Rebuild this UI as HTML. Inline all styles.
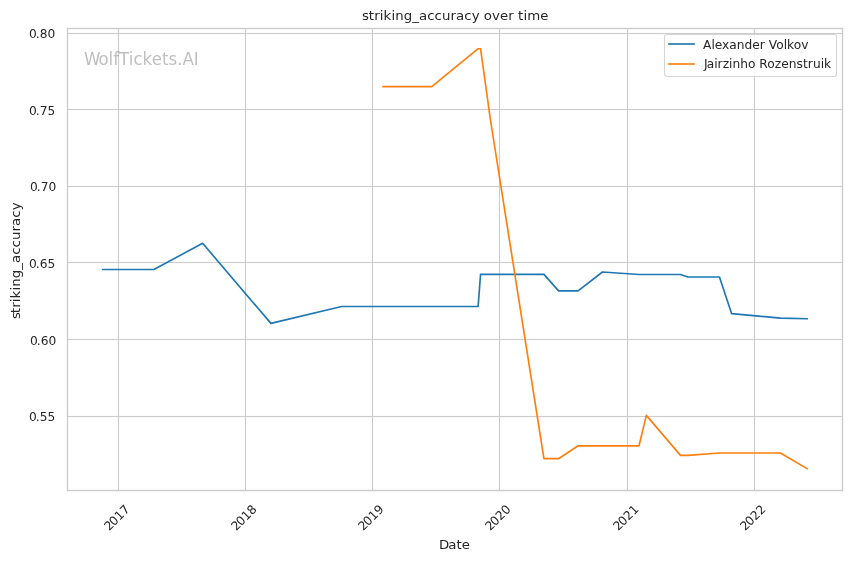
<!DOCTYPE html>
<html lang="en">
<head>
<meta charset="utf-8">
<title>striking_accuracy over time</title>
<style>
html,body{margin:0;padding:0;background:#fff;}
body{width:852px;height:561px;overflow:hidden;}
svg{display:block;position:absolute;left:0;top:0;}
text{font-family:"DejaVu Sans", "Liberation Sans", sans-serif;fill:#262626;text-rendering:geometricPrecision;}
.h{text-rendering:auto;}
.g{stroke:#ccc;stroke-width:1.111;fill:none;}
.gh{stroke:#ccc;stroke-width:3;stroke-opacity:0.0555;fill:none;}
.gc{stroke:#ccc;stroke-width:1;fill:none;}
.s{stroke:#ccc;stroke-width:1.389;fill:none;stroke-linecap:square;}
.sh{stroke:#ccc;stroke-width:3;stroke-opacity:0.1945;fill:none;}
.sc{stroke:#ccc;stroke-width:1;fill:none;stroke-linecap:square;}
.l{stroke-width:1.667;fill:none;stroke-linecap:square;stroke-linejoin:round;}
.t{font-size:12.222px;}
.a{font-size:13.333px;}
.w{font-size:16.667px;fill:#808080;fill-opacity:0.5;}
</style>
</head>
<body>
<svg width="852" height="561" viewBox="0 0 852 561" role="img" aria-label="striking_accuracy over time">
<rect x="0" y="0" width="852" height="561" fill="#fff"/>
<g class="g">
<line x1="118.5" y1="28.5" x2="118.5" y2="490.5"/>
<line x1="245.5" y1="28.5" x2="245.5" y2="490.5"/>
<line x1="372.5" y1="28.5" x2="372.5" y2="490.5"/>
<line x1="499.5" y1="28.5" x2="499.5" y2="490.5"/>
<line x1="627.5" y1="28.5" x2="627.5" y2="490.5"/>
<line x1="754.5" y1="28.5" x2="754.5" y2="490.5"/>
</g>
<g class="gh">
<line x1="67.5" y1="33.5" x2="842.5" y2="33.5"/>
<line x1="67.5" y1="109.5" x2="842.5" y2="109.5"/>
<line x1="67.5" y1="186.5" x2="842.5" y2="186.5"/>
<line x1="67.5" y1="262.5" x2="842.5" y2="262.5"/>
<line x1="67.5" y1="339.5" x2="842.5" y2="339.5"/>
<line x1="67.5" y1="416.5" x2="842.5" y2="416.5"/>
</g>
<g class="gc">
<line x1="67.5" y1="33.5" x2="842.5" y2="33.5"/>
<line x1="67.5" y1="109.5" x2="842.5" y2="109.5"/>
<line x1="67.5" y1="186.5" x2="842.5" y2="186.5"/>
<line x1="67.5" y1="262.5" x2="842.5" y2="262.5"/>
<line x1="67.5" y1="339.5" x2="842.5" y2="339.5"/>
<line x1="67.5" y1="416.5" x2="842.5" y2="416.5"/>
</g>
<polyline class="l" stroke="#1f77b4" points="102.69,269.5 153.88,269.5 202.64,243.3 270.9,323.4 341.6,306.5 383.04,306.5 431.8,306.5 478.12,306.5 480.56,274.4 543.94,274.4 558.57,290.9 578.07,290.9 602.45,272 639.02,274.5 680.46,274.5 687.78,277 719.47,277 731.66,313.7 780.41,318.1 807.23,318.7"/>
<polyline class="l" stroke="#ff7f0e" points="383.04,86.55 431.8,86.55 478.12,48.72 480.56,48.72 490.31,119 543.94,458.7 558.57,458.7 578.07,445.8 639.02,445.8 646.33,415.4 680.46,455.4 687.78,455.4 719.47,453 780.41,453 807.23,468.72"/>
<g class="s">
<line x1="67.5" y1="28.5" x2="67.5" y2="490.5"/>
<line x1="842.5" y1="28.5" x2="842.5" y2="490.5"/>
</g>
<g class="sh">
<line x1="67.5" y1="490.5" x2="842.5" y2="490.5"/>
<line x1="67.5" y1="28.5" x2="842.5" y2="28.5"/>
</g>
<g class="sc">
<line x1="67.5" y1="490.5" x2="842.5" y2="490.5"/>
<line x1="67.5" y1="28.5" x2="842.5" y2="28.5"/>
</g>
<text class="w h" style="font-size:16px" transform="translate(84 64.5) scale(1.04167 1.08)" x="0 13.92 23.64 28.08 33.72 43.08 47.52 56.28 65.04 74.88 81.12 89.52 94.56 105.48" y="0">WolfTickets.AI</text>
<text class="a h" style="font-size:13px" transform="translate(362 20) scale(1.02564 1)" x="0 6.703 11.944 17.428 21.084 28.763 32.419 40.706 48.994 55.575 63.619 70.809 78 86.288 91.772 99.816 107.006 114.684 118.828 126.872 134.55 142.594 148.078 152.222 157.463 161.119 173.916" y="0">striking_accuracy over time</text>
<text class="a h" style="font-size:13px" transform="translate(440 549) scale(1.02564 1)" x="-0.975 8.044 16.088 21.328" y="0">Date</text>
<text class="a h" style="font-size:13px" transform="translate(24 319) rotate(-90) scale(1.02564 1)" x="0 5.728 10.969 16.453 20.109 27.788 31.444 39.731 48.019 54.6 62.644 69.834 77.025 85.313 90.797 98.841 106.031" y="-4">striking_accuracy</text>
<text class="t" transform="translate(110 532) rotate(-45)" x="0 6.75 14.5 22.25" y="-1">2017</text>
<text class="t" transform="translate(237 532) rotate(-45)" x="0 6.75 14.5 22.25" y="-1">2018</text>
<text class="t" transform="translate(364 532) rotate(-45)" x="0 6.75 14.5 22.25" y="-1">2019</text>
<text class="t" transform="translate(491 532) rotate(-45)" x="0 6.75 14.5 22.25" y="-1">2020</text>
<text class="t" transform="translate(619 532) rotate(-45)" x="0 6.75 14.5 22.25" y="-1">2021</text>
<text class="t" transform="translate(746 532) rotate(-45)" x="0 6.75 14.5 22.25" y="-1">2022</text>
<text class="t h" x="29 35.75 39.625 47.5" y="38">0.80</text>
<text class="t h" x="29 35.75 39.625 47.375" y="115">0.75</text>
<text class="t h" x="30 36.75 40.625 48.375" y="191">0.70</text>
<text class="t h" x="29 35.75 39.625 47.375" y="268">0.65</text>
<text class="t h" x="30 36.75 40.625 48.375" y="345">0.60</text>
<text class="t h" x="29 35.75 39.625 47.5" y="421">0.55</text>
<path d="M667.5 76.5H834.5Q836.5 76.5 836.5 73.5V36.5Q836.5 34.5 834.5 34.5H667.5Q664.5 34.5 664.5 36.5V73.5Q664.5 76.5 667.5 76.5Z" fill="#fff" fill-opacity="0.8" stroke="#ccc" stroke-opacity="0.8" stroke-width="1.111"/>
<line class="l" stroke="#1f77b4" x1="669" y1="44" x2="694" y2="44"/>
<line class="l" stroke="#ff7f0e" x1="669" y1="64" x2="694" y2="64"/>
<text class="t h" x="703 711.375 714.75 722 729.25 736.75 744.5 752.25 759.75 764.875 768.75 776.125 783.625 787 793.75 801.25" y="49">Alexander Volkov</text>
<text class="t h" x="704 706.625 714.125 717.5 722.625 729 732.375 740.125 747.875 755.375 759.25 767.25 774.75 781.125 788.625 796.375 802.875 807.75 812.875 820.625 824" y="68">Jairzinho Rozenstruik</text>
</svg>
</body>
</html>
